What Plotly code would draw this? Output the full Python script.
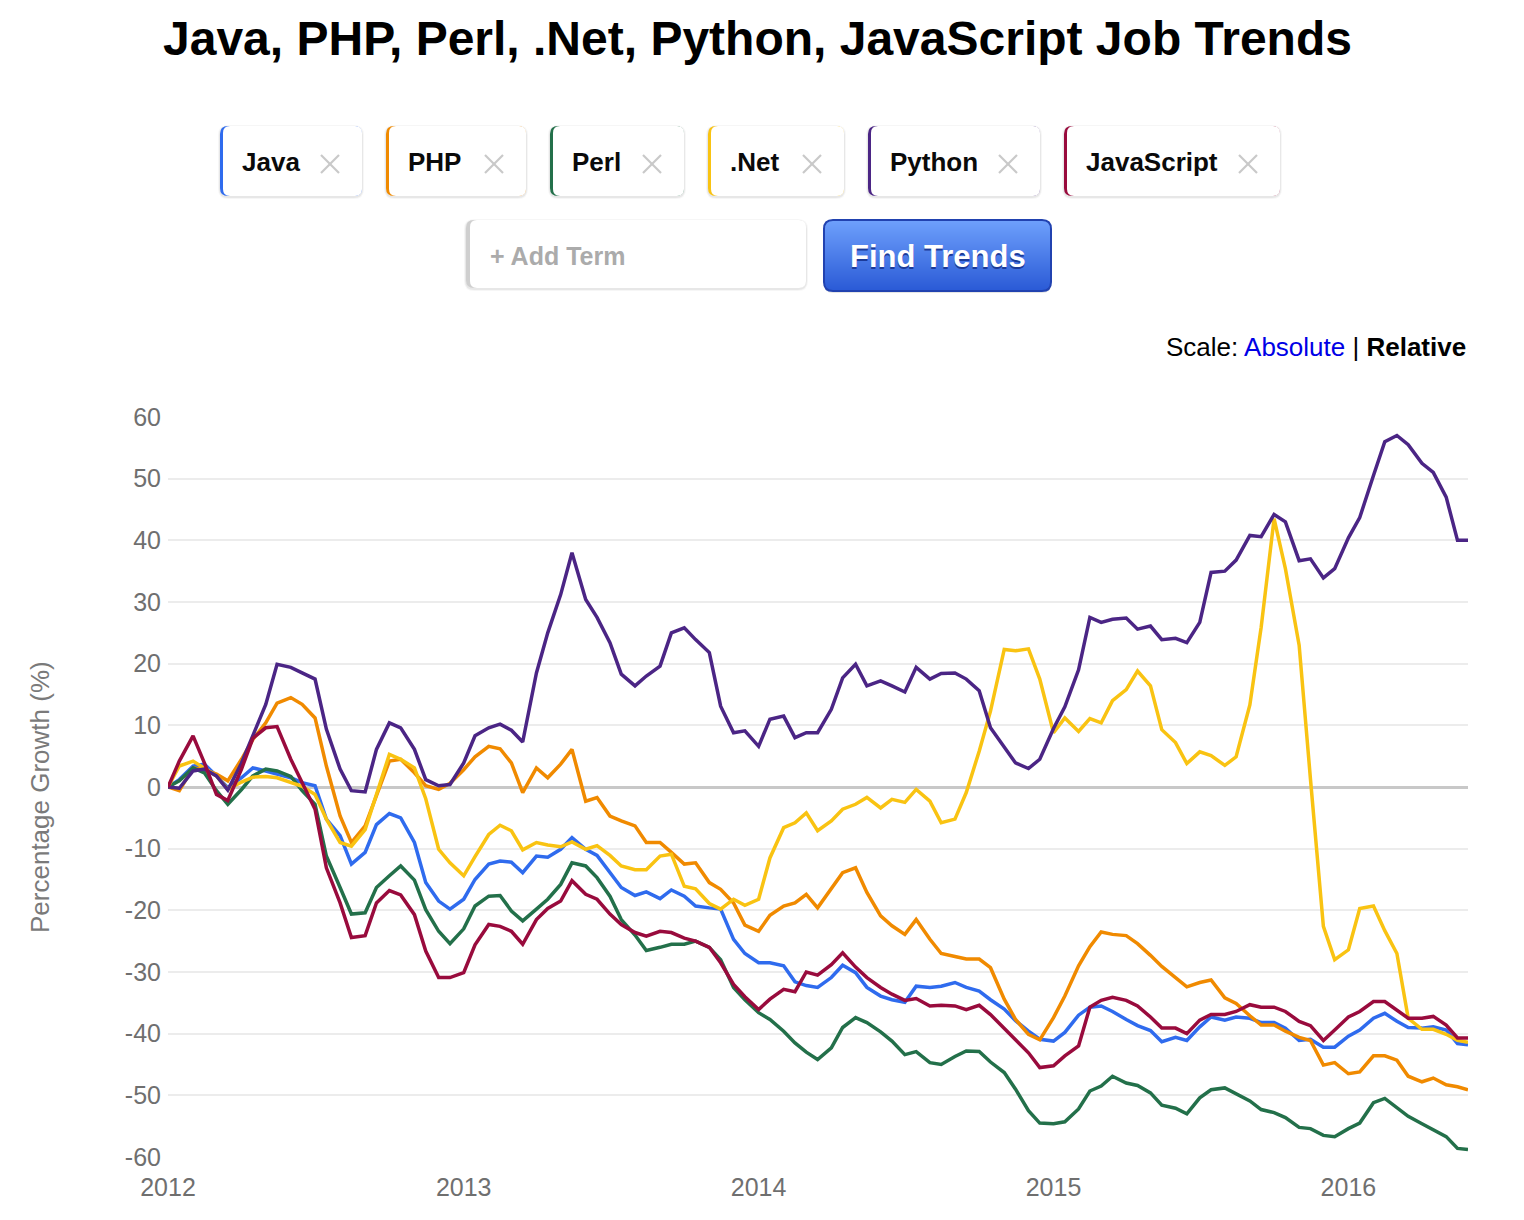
import math
import pandas as pd
import plotly.graph_objects as go

# ---------------- data ----------------
series_names = ["Java", "PHP", "Perl", ".Net", "Python", "JavaScript"]
series_colors = ["#2f6bee", "#f08a00", "#23704a", "#f9c312", "#4b2585", "#990b3d"]

# semi-monthly observation dates (1st & 15th) plus the final observation
dates = list(pd.date_range("2012-01-01", "2016-05-15", freq="SMS").strftime("%Y-%m-%d")) + ["2016-05-28"]

java = [0, 1.2, 3.4, 3.7, 1.8, -0.1, 1.5, 3.1, 2.6, 2.1, 1.5, 0.7, 0.2, -5.2, -7.9, -12.5, -10.6, -6.1, -4.3, -5.0,
        -9.0, -15.5, -18.5, -19.8, -18.2, -15.0, -12.5, -12.0, -12.2, -13.9, -11.2, -11.4, -10.1, -8.2, -10.1, -11.1,
        -13.9, -16.3, -17.6, -17.0, -18.1, -16.7, -17.7, -19.3, -19.6, -19.8, -24.7, -27.0, -28.5, -28.5, -29.0, -31.6,
        -32.2, -32.5, -30.9, -28.9, -30.1, -32.5, -33.9, -34.5, -34.9, -32.3, -32.5, -32.3, -31.7, -32.5, -33.1, -34.5,
        -36.0, -37.9, -39.6, -40.9, -41.2, -39.8, -37.0, -35.7, -35.5, -36.4, -37.7, -38.7, -39.5, -41.3, -40.6, -41.1,
        -38.9, -37.3, -37.8, -37.3, -37.5, -38.2, -38.2, -39.1, -41.1, -40.9, -42.2, -42.2, -40.4, -39.4, -37.5, -36.7,
        -38.0, -39.0, -39.1, -38.9, -39.4, -41.6, -41.8]

php = [0, -0.6, 3.1, 2.8, 2.1, 1.0, 4.5, 7.7, 10.4, 13.6, 14.5, 13.4, 11.2, 3.4, -4.7, -9.0, -6.3, -1.5, 4.2, 4.5,
       2.3, 0.2, -0.4, 0.6, 2.8, 4.9, 6.6, 6.2, 3.9, -0.9, 3.1, 1.5, 3.7, 6.1, -2.3, -1.7, -4.7, -5.5, -6.3, -9.0,
       -9.0, -10.6, -12.5, -12.3, -15.5, -16.6, -18.8, -22.4, -23.4, -20.8, -19.3, -18.8, -17.4, -19.6, -16.6, -13.9,
       -13.1, -17.1, -20.9, -22.5, -23.9, -21.5, -24.7, -27.0, -27.5, -27.9, -27.9, -29.3, -34.4, -37.7, -40.1, -41.0,
       -37.4, -33.9, -29.0, -25.9, -23.5, -23.9, -24.1, -25.4, -27.3, -29.1, -30.9, -32.4, -31.7, -31.3, -34.2, -35.1,
       -37.1, -38.6, -38.6, -39.6, -40.6, -41.1, -45.1, -44.7, -46.5, -46.2, -43.6, -43.6, -44.3, -46.9, -47.8, -47.2,
       -48.3, -48.6, -49.1]

perl = [0, 1.0, 3.1, 2.3, -0.6, -2.8, -0.4, 1.8, 2.9, 2.6, 1.7, -0.6, -2.8, -11.2, -16.3, -20.6, -20.4, -16.3, -14.4,
        -12.8, -15.1, -19.9, -23.4, -25.4, -23.0, -19.3, -17.7, -17.6, -20.1, -21.7, -19.8, -18.2, -15.8, -12.3, -12.8,
        -14.7, -17.7, -21.5, -24.0, -26.5, -26.0, -25.5, -25.5, -25.0, -26.0, -28.0, -32.5, -34.5, -36.6, -37.7, -39.6,
        -41.5, -43.0, -44.2, -42.3, -39.0, -37.4, -38.2, -39.7, -41.2, -43.4, -42.9, -44.7, -45.0, -43.7, -42.8, -42.9,
        -44.6, -46.3, -49.0, -52.5, -54.5, -54.6, -54.3, -52.2, -49.3, -48.5, -46.9, -48.0, -48.4, -49.6, -51.6, -52.1,
        -53.0, -50.4, -49.1, -48.8, -49.8, -50.9, -52.3, -52.8, -53.6, -55.2, -55.4, -56.5, -56.7, -55.4, -54.5, -51.2,
        -50.5, -52.0, -53.4, -54.6, -55.6, -56.7, -58.6, -58.8]

dotnet = [0, 3.4, 4.2, 3.1, 1.8, -0.4, 0.8, 1.6, 1.7, 1.5, 0.8, 0.1, -1.2, -5.2, -9.0, -9.6, -6.9, -1.2, 5.3, 4.5,
          3.1, -1.9, -10.1, -12.3, -14.4, -11.3, -7.7, -6.2, -7.1, -10.2, -9.0, -9.4, -9.7, -8.9, -10.1, -9.5, -11.1,
          -12.8, -13.4, -13.4, -11.2, -10.9, -16.1, -16.5, -18.9, -19.8, -18.2, -19.2, -18.2, -11.5, -6.6, -5.8, -4.2,
          -7.1, -5.5, -3.6, -2.8, -1.7, -3.4, -2.0, -2.5, -0.4, -2.3, -5.8, -5.2, -0.9, 5.8, 12.3, 22.3, 22.1, 22.4,
          17.5, 8.8, 11.2, 9.0, 11.1, 10.4, 14.0, 15.8, 18.8, 16.4, 9.3, 7.2, 3.8, 5.7, 5.1, 3.5, 4.9, 13.3, 25.9, 43.5,
          35.4, 23.0, 1.3, -22.6, -28.0, -26.4, -19.7, -19.3, -23.3, -27.0, -37.5, -39.3, -39.3, -40.1, -41.1, -41.4]

python = [0, -0.2, 2.6, 2.9, 1.8, -0.5, 3.9, 8.3, 13.4, 19.9, 19.4, 18.5, 17.5, 9.4, 2.9, -0.6, -0.8, 6.1, 10.4, 9.6,
          6.1, 1.2, 0.2, 0.4, 3.9, 8.3, 9.6, 10.2, 9.2, 7.3, 18.5, 25.0, 31.2, 38.0, 30.4, 27.5, 23.4, 18.3, 16.4, 18.0,
          19.6, 25.0, 25.8, 23.9, 21.8, 13.1, 8.8, 9.1, 6.6, 11.0, 11.5, 8.0, 8.8, 8.8, 12.6, 17.7, 19.9, 16.4, 17.2,
          16.4, 15.4, 19.4, 17.5, 18.4, 18.5, 17.5, 15.6, 9.6, 6.4, 3.9, 3.0, 4.5, 9.5, 13.0, 19.0, 27.5, 26.7, 27.2,
          27.4, 25.6, 26.1, 23.9, 24.1, 23.4, 26.7, 34.8, 35.0, 36.8, 40.8, 40.6, 44.2, 43.0, 36.7, 37.0, 33.9, 35.4,
          40.4, 43.7, 50.5, 56.0, 57.0, 55.5, 52.5, 51.0, 47.0, 40.0, 40.0]

javascript = [0, 4.2, 8.3, 3.9, -1.2, -2.2, 2.9, 7.9, 9.6, 9.8, 4.5, 0.7, -3.6, -13.1, -18.8, -24.4, -24.1, -18.8,
              -16.8, -17.5, -20.7, -26.6, -30.9, -30.9, -30.1, -25.6, -22.3, -22.6, -23.4, -25.5, -21.5, -19.7, -18.5,
              -15.2, -17.4, -18.2, -20.6, -22.3, -23.6, -24.2, -23.4, -23.6, -24.5, -25.0, -26.0, -28.5, -32.0, -34.0,
              -36.1, -34.4, -32.8, -33.2, -30.0, -30.5, -28.8, -26.9, -29.2, -30.9, -32.5, -33.6, -34.6, -34.3, -35.5,
              -35.4, -35.5, -36.1, -35.4, -36.9, -39.2, -41.0, -43.1, -45.5, -45.2, -43.6, -42.0, -35.7, -34.6, -34.1,
              -34.6, -35.5, -37.3, -39.1, -39.1, -40.0, -37.8, -36.9, -36.9, -36.4, -35.3, -35.7, -35.7, -36.4, -38.0,
              -38.7, -41.1, -39.4, -37.3, -36.4, -34.8, -34.8, -36.2, -37.5, -37.5, -37.2, -38.6, -40.7, -40.7]

series_values = [java, php, perl, dotnet, python, javascript]

title_text = "Java, PHP, Perl, .Net, Python, JavaScript Job Trends"
y_title = "Percentage Growth (%)"
x_range = ["2012-01-01", "2016-05-28"]
y_range = [-60, 60]
y_ticks = [-60, -50, -40, -30, -20, -10, 0, 10, 20, 30, 40, 50, 60]
y_ticklabels = ["-60", "-50", "-40", "-30", "-20", "-10", "0", "10", "20", "30", "40", "50", "60"]
x_ticks = ["2012-01-01", "2013-01-01", "2014-01-01", "2015-01-01", "2016-01-01"]
x_ticklabels = ["2012", "2013", "2014", "2015", "2016"]

# ---------------- layout helpers ----------------
W, H = 1524, 1220
FONT = "Liberation Sans, Arial, Helvetica, sans-serif"


def px(x):
    return x / W


def py(y):
    return 1 - y / H


def rrect(x0, y0, x1, y1, r):
    def P(x, y):
        return f"{px(x):.6f},{py(y):.6f}"
    return (f"M{P(x0 + r, y0)} L{P(x1 - r, y0)} Q{P(x1, y0)} {P(x1, y0 + r)} "
            f"L{P(x1, y1 - r)} Q{P(x1, y1)} {P(x1 - r, y1)} L{P(x0 + r, y1)} "
            f"Q{P(x0, y1)} {P(x0, y1 - r)} L{P(x0, y0 + r)} Q{P(x0, y0)} {P(x0 + r, y0)} Z")


shapes = []
annotations = []


def add_path(path, fill, line_color=None, line_width=0):
    shapes.append(dict(type="path", xref="paper", yref="paper", path=path, fillcolor=fill,
                       line=dict(color=line_color or "rgba(0,0,0,0)", width=line_width), layer="above"))


def add_shadow(x0, y0, x1, y1, r):
    add_path(rrect(x0 - 2, y0 - 1, x1 + 2, y1 + 3, r + 2), "rgba(0,0,0,0.035)")
    add_path(rrect(x0 - 1, y0, x1 + 1, y1 + 2, r + 1), "rgba(0,0,0,0.06)")


# chips
chip_x = [(220, 362), (386, 526), (550, 684), (708, 844), (868, 1040), (1064, 1280)]
cy0, cy1 = 126, 196
for (x0, x1), name, col in zip(chip_x, series_names, series_colors):
    add_shadow(x0, cy0, x1, cy1, 8)
    add_path(rrect(x0, cy0, x1, cy1, 8), col)
    add_path(rrect(x0 + 3, cy0, x1, cy1, 7), "white")
    annotations.append(dict(x=px(x0 + 20), y=py(161.5), xref="paper", yref="paper", xanchor="left",
                            yanchor="middle", showarrow=False, text=f"<b>{name}</b>",
                            font=dict(family=FONT, size=26, color="#0a0a0a")))
    cx, cyc = x1 - 32, 164
    for (ax, ay, bx, by) in [(-9, -9, 9, 9), (-9, 9, 9, -9)]:
        shapes.append(dict(type="line", xref="paper", yref="paper", x0=px(cx + ax), y0=py(cyc + ay),
                           x1=px(cx + bx), y1=py(cyc + by), line=dict(color="#c9c9c9", width=2.2),
                           layer="above"))

# input box
ix0, iy0, ix1, iy1 = 466, 220, 806, 288
add_shadow(ix0, iy0, ix1, iy1, 8)
add_path(rrect(ix0, iy0, ix1, iy1, 8), "#cfcfcf")
add_path(rrect(ix0 + 4, iy0, ix1, iy1, 7), "white")
annotations.append(dict(x=px(488), y=py(256), xref="paper", yref="paper", xanchor="left", yanchor="middle",
                        showarrow=False, text="<b>+ Add Term</b>",
                        font=dict(family=FONT, size=25, color="#ababab")))

# button with vertical gradient
bx0, by0, bx1, by1, br = 824, 220, 1051, 291, 9
add_path(rrect(bx0, by0 + 2, bx1, by1 + 2, br), "rgba(0,0,0,0.10)")
top_c, bot_c = (110, 160, 252), (42, 90, 214)
for yy in range(by0, by1):
    t = (yy - by0) / (by1 - by0 - 1)
    c = tuple(int(round(a + (b - a) * t)) for a, b in zip(top_c, bot_c))
    mid = yy + 0.5
    d = min(mid - by0, by1 - mid)
    inset = 0.0
    if d < br:
        inset = br - math.sqrt(max(br * br - (br - d) ** 2, 0))
    shapes.append(dict(type="rect", xref="paper", yref="paper", x0=px(bx0 + inset), x1=px(bx1 - inset),
                       y0=py(yy), y1=py(min(yy + 1.8, by1)), fillcolor=f"rgb{c}", line=dict(width=0),
                       layer="above"))
add_path(rrect(bx0, by0, bx1, by1, br), "rgba(0,0,0,0)", "#2142b0", 2)
annotations.append(dict(x=px(938), y=py(258), xref="paper", yref="paper", xanchor="center", yanchor="middle",
                        showarrow=False, text="<b>Find Trends</b>",
                        font=dict(family=FONT, size=31, color="#1b3a98")))
annotations.append(dict(x=px(938), y=py(256.5), xref="paper", yref="paper", xanchor="center", yanchor="middle",
                        showarrow=False, text="<b>Find Trends</b>",
                        font=dict(family=FONT, size=31, color="white")))

# title
annotations.append(dict(x=px(757.5), y=py(38), xref="paper", yref="paper", xanchor="center", yanchor="middle",
                        showarrow=False, text=f"<b>{title_text}</b>",
                        font=dict(family=FONT, size=48, color="black")))

# scale switch
annotations.append(dict(x=px(1468), y=py(347), xref="paper", yref="paper", xanchor="right", yanchor="middle",
                        showarrow=False,
                        text="Scale: <span style='color:#0000e6'>Absolute</span> | <b>Relative</b>",
                        font=dict(family=FONT, size=26, color="black")))

# y title
annotations.append(dict(x=px(40), y=py(797), xref="paper", yref="paper", xanchor="center", yanchor="middle",
                        showarrow=False, text=y_title, textangle=-90,
                        font=dict(family=FONT, size=26, color="#7a7a7a")))

# ---------------- figure ----------------
fig = go.Figure()
for name, col, vals in zip(series_names, series_colors, series_values):
    fig.add_trace(go.Scatter(x=dates, y=vals, name=name, mode="lines",
                             line=dict(color=col, width=3.5), hoverinfo="skip"))

plot_l, plot_r, plot_t, plot_b = 168, 1468, 417, 1157
fig.update_layout(
    width=W, height=H, autosize=False,
    margin=dict(l=0, r=0, t=0, b=0, pad=0, autoexpand=False),
    paper_bgcolor="white", plot_bgcolor="white",
    showlegend=False, hovermode=False,
    font=dict(family=FONT),
    shapes=shapes, annotations=annotations,
    xaxis=dict(type="date", range=x_range, domain=[px(plot_l), px(plot_r)], automargin=False,
               showgrid=False, zeroline=False, showline=False, ticks="",
               tickmode="array", tickvals=x_ticks, ticktext=x_ticklabels,
               tickfont=dict(family=FONT, size=25, color="#6f6f6f"), ticklabelstandoff=13),
    yaxis=dict(range=y_range, domain=[py(plot_b), py(plot_t)], automargin=False,
               tickmode="array", tickvals=y_ticks, ticktext=y_ticklabels,
               showgrid=True, gridcolor="#ececec", gridwidth=2,
               zeroline=True, zerolinecolor="#c8c8c8", zerolinewidth=3,
               showline=False, ticks="",
               tickfont=dict(family=FONT, size=25, color="#6f6f6f"), ticklabelstandoff=6),
)

fig.write_html("out.html")
